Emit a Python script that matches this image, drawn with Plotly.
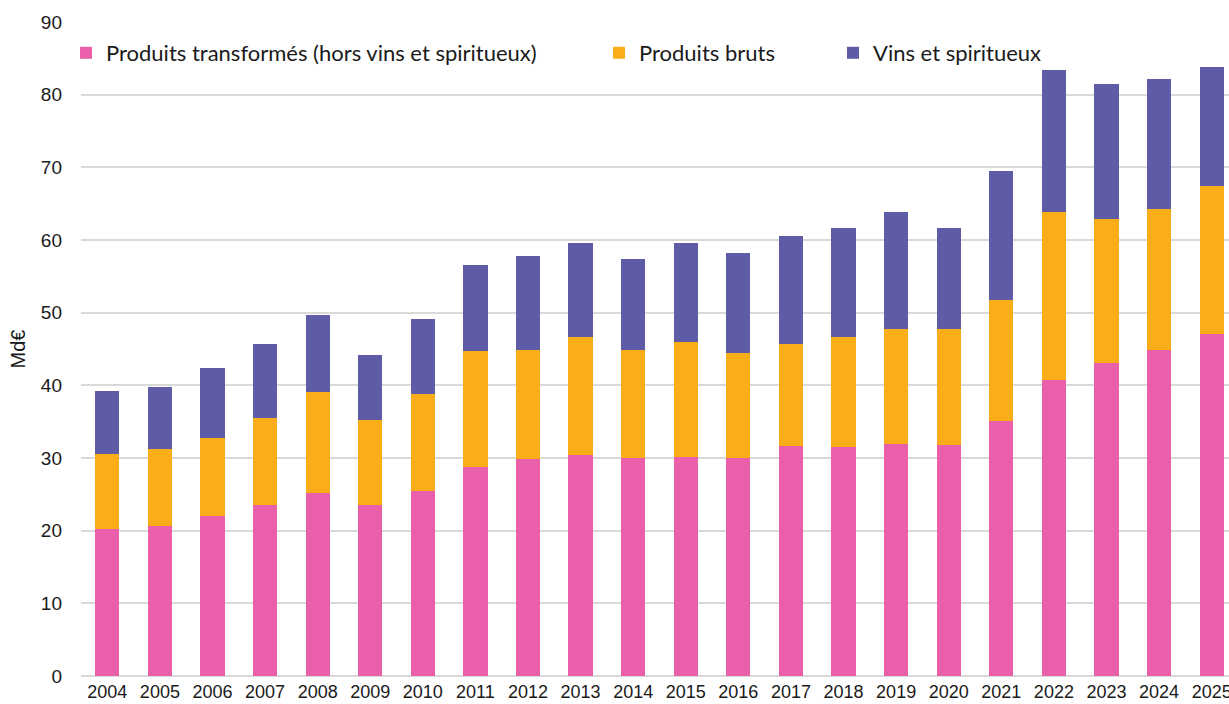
import plotly.graph_objects as go

years = [str(y) for y in range(2004, 2026)]
transformes = [20.2, 20.7, 22.0, 23.5, 25.2, 23.5, 25.4, 28.8, 29.8, 30.4, 30.0,
               30.2, 30.0, 31.6, 31.5, 31.9, 31.8, 35.1, 40.8, 43.1, 44.9, 47.0]
bruts = [10.4, 10.6, 10.8, 12.0, 13.9, 11.7, 13.4, 15.9, 15.0, 16.3, 14.8,
         15.7, 14.5, 14.1, 15.1, 15.9, 15.9, 16.7, 23.0, 19.8, 19.4, 20.4]
vins = [8.6, 8.5, 9.6, 10.2, 10.6, 9.0, 10.3, 11.8, 13.0, 12.9, 12.6,
        13.7, 13.7, 14.8, 15.1, 16.0, 14.0, 17.7, 19.6, 18.6, 17.8, 16.4]

names = ["Produits transformés (hors vins et spiritueux)", "Produits bruts", "Vins et spiritueux"]
colors = ["#E95FAA", "#F9AE19", "#5E5CA6"]
series = [transformes, bruts, vins]
legends = ["legend", "legend2", "legend3"]

W, H = 1229, 704
ml, mt, mb = 81, 22, 28

fig = go.Figure()
for n, c, s, lg in zip(names, colors, series, legends):
    fig.add_trace(go.Bar(x=years, y=s, name=n, marker_color=c,
                         marker_line_width=0, legend=lg, showlegend=True))

leg_font = dict(family="Lato, Noto Sans, sans-serif", size=22, color="#1a1a1a")
ly = 1 - 53 / H
legend_lefts = [66, 599, 833]
leg_common = dict(orientation="h", yanchor="middle", xanchor="left", y=ly,
                  xref="container", yref="container",
                  font=leg_font, bgcolor="rgba(0,0,0,0)", itemwidth=30,
                  tracegroupgap=0, visible=True)

fig.update_layout(
    width=W, height=H, showlegend=True,
    margin=dict(l=ml, r=0, t=mt, b=mb, pad=0, autoexpand=False),
    barmode="stack", bargap=0.54,
    plot_bgcolor="white", paper_bgcolor="white",
    font=dict(family="Liberation Sans, Arial, sans-serif", color="#1a1a1a"),
    legend=dict(x=legend_lefts[0] / W, **leg_common),
    legend2=dict(x=legend_lefts[1] / W, **leg_common),
    legend3=dict(x=legend_lefts[2] / W, **leg_common),
    xaxis=dict(range=[-0.5, 21.33], tickfont=dict(size=18, color="#1a1a1a"),
               showgrid=False, showline=False, ticks="", ticklabelstandoff=3),
    yaxis=dict(range=[0, 90], dtick=10, tickfont=dict(size=19, color="#1a1a1a"),
               gridcolor="#D9D9D9", gridwidth=2, zeroline=True, zerolinecolor="#D9D9D9",
               zerolinewidth=2, showline=False, ticks="", ticklabelstandoff=18,
               title=dict(text="Md€", font=dict(size=20, color="#1a1a1a"), standoff=9)),
)

fig.write_html("out.html", config={"displayModeBar": False},
               post_script="document.body.style.margin='0';document.body.style.overflow='hidden';")
